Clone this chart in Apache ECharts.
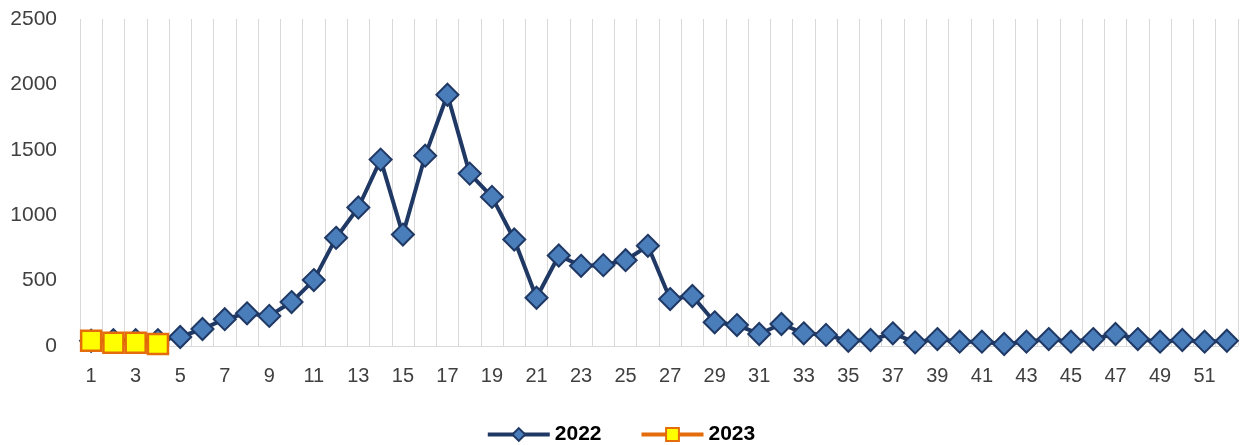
<!DOCTYPE html>
<html>
<head>
<meta charset="utf-8">
<script src="https://cdn.jsdelivr.net/npm/echarts@6/dist/echarts.min.js"></script>
<style>html,body{margin:0;padding:0;background:#fff}#c{width:1241px;height:445px}</style>
</head>
<body>
<div id="c"></div>
<script>
const weeks = Array.from({length: 52}, (_, i) => String(i + 1));
const values2022 = [40, 45, 45, 45, 69, 130, 205, 250, 230, 336, 504, 827, 1059, 1425, 852, 1455, 1921, 1318, 1140, 814,
  369, 692, 613, 618, 656, 766, 359, 382, 181, 160, 92, 168, 97, 85, 40, 46, 97, 28, 53, 33,
  33, 15, 33, 53, 33, 53, 92, 53, 33, 46, 33, 40];
const values2023 = [40, 25, 25, 15];
const yTicks = [0, 500, 1000, 1500, 2000, 2500];

const chart = echarts.init(document.getElementById('c'));
chart.setOption({
  animation: false,
  backgroundColor: '#fff',
  grid: {left: 80, right: 3, top: 19, bottom: 99, containLabel: false},
  xAxis: {
    type: 'category',
    data: weeks,
    boundaryGap: true,
    axisLine: {show: true, lineStyle: {color: '#d9d9d9', width: 1}},
    axisTick: {show: false},
    axisLabel: {interval: 1, color: '#404040', fontSize: 20, fontFamily: 'Liberation Sans', margin: 20},
    splitLine: {show: true, interval: 0, lineStyle: {color: '#d9d9d9', width: 1}}
  },
  yAxis: {
    type: 'value',
    min: yTicks[0],
    max: yTicks[yTicks.length - 1],
    interval: 500,
    axisLine: {show: false},
    axisTick: {show: false},
    splitLine: {show: false},
    axisLabel: {color: '#404040', fontSize: 21, fontFamily: 'Liberation Sans', margin: 23, formatter: v => String(v)}
  },
  legend: {
    bottom: -5,
    left: 'center',
    itemWidth: 62,
    itemHeight: 16,
    itemGap: 38,
    lineStyle: {width: 4},
    textStyle: {fontSize: 21, fontWeight: 'bold', color: '#000', fontFamily: 'Liberation Sans'},
    data: ['2022', '2023']
  },
  series: [
    {
      name: '2022',
      type: 'line',
      data: values2022,
      symbol: 'diamond',
      symbolSize: 22,
      showAllSymbol: true,
      lineStyle: {color: '#1f3864', width: 4},
      itemStyle: {color: '#4a7ebb', borderColor: '#1f3864', borderWidth: 2}
    },
    {
      name: '2023',
      type: 'line',
      data: values2023,
      symbol: 'rect',
      symbolSize: 20,
      showAllSymbol: true,
      lineStyle: {color: '#e46c0a', width: 4},
      itemStyle: {color: '#ffff00', borderColor: '#e46c0a', borderWidth: 2.5}
    }
  ]
});
</script>
</body>
</html>
